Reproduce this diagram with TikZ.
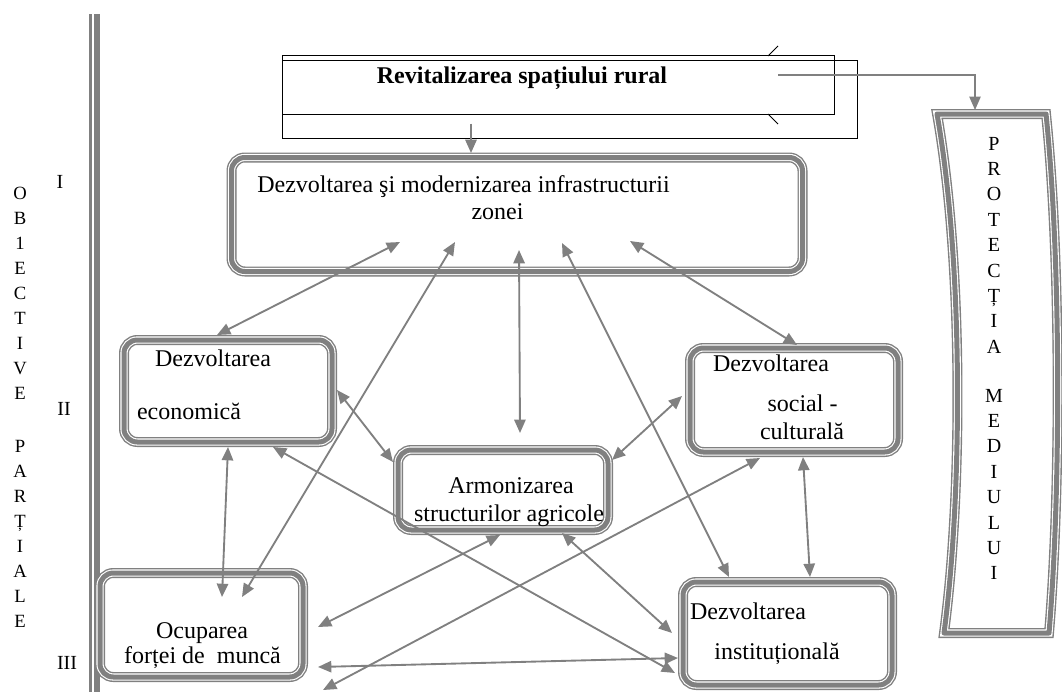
\documentclass[tikz,border=0pt]{standalone}
\usepackage{fontspec}
\setmainfont{Liberation Serif}
\usetikzlibrary{arrows.meta}
\definecolor{gris}{RGB}{128,128,128}
\tikzset{
  triplu/.style={draw=gris, line width=3.75pt,
    preaction={draw=gris, line width=7.5pt},
    preaction={draw=white, line width=5.4pt}},
  caseta/.style 2 args={triplu, rounded corners=10pt, inner sep=0pt,
    minimum width=#1*0.75pt, minimum height=#2*0.75pt},
  scris/.style={font=\fontsize{18}{22}\selectfont, anchor=base, inner sep=0pt},
  litera/.style={font=\fontsize{14}{17}\selectfont, anchor=base, inner sep=0pt},
  cifra/.style={font=\fontsize{15}{18}\selectfont, anchor=base, inner sep=0pt},
  sageata/.style={gris, line width=1.4pt, >={Triangle[length=10pt,width=8.5pt]}, <->},
}
\begin{document}
\begin{tikzpicture}[x=0.75pt,y=-0.75pt]
        \useasboundingbox (0,0) rectangle (1062,692);
        % linia din stanga
        \draw[gris, line width=8pt] (94.7,14) -- (94.7,692);
        \draw[white, line width=1.1pt] (93,14) -- (93,692);
        % obiective partiale
        \foreach \l [count=\i] in {O,B,1,E,C,T,I,V,E}
        \node[litera] (ob\i) at (20,174+25*\i) {\l};
        \foreach \l [count=\i] in {P,A,R,Ț,I,A,L,E}
        \node[litera] (pa\i) at (20,427+25*\i) {\l};
        \node[cifra] (nivel1) at (60,188) {I};
        \node[cifra] (nivel2) at (64,415) {II};
        \node[cifra] (nivel3) at (67,669) {III};
        % titlul
        \node[draw, line width=0.75pt, inner sep=0pt, minimum width=552*0.75pt, minimum height=58*0.75pt] (revA) at (558,85) {};
        \node[draw, line width=0.75pt, inner sep=0pt, minimum width=575*0.75pt, minimum height=77*0.75pt] (revB) at (569.5,99.5) {};
        \draw[line width=0.75pt] (778,46) -- (768,56) (768,114) -- (778,124);
        \node[scris] (titlu) at (522,84) {\bfseries Revitalizarea spațiului rural};
        % protectia mediului
        \draw[triplu, line join=round] (937,114) -- (1046,114) .. controls (1061,260) and (1061,490) .. (1049,633)
              -- (944,633) .. controls (963,490) and (963,260) .. (937,114) -- cycle;
        \coordinate (prot) at (975,110);
        \foreach \l [count=\i] in {P,R,O,T,E,C,Ț,I,A}
        \node[litera, font=\fontsize{15}{18}\selectfont] (pm\i) at (994,124.6+25.4*\i) {\l};
        \foreach \l [count=\i] in {M,E,D,I,U,L,U,I}
        \node[litera, font=\fontsize{15}{18}\selectfont] (mm\i) at (994,376.6+25.4*\i) {\l};
        % casetele
        \node[caseta={571}{114}] (infra) at (517,214.5) {};
        \node[caseta={208}{102}] (eco) at (228,391) {};
        \node[caseta={203}{104}] (ocup) at (201.5,625) {};
        \node[caseta={210}{80}] (armon) at (503,490) {};
        \node[caseta={208}{104}] (social) at (794,400) {};
        \node[caseta={209}{103}] (instit) at (787.5,633.5) {};
        \node[scris] (infraT1) at (463.5,192) {Dezvoltarea şi modernizarea infrastructurii};
        \node[scris] (infraT2) at (497.5,219) {zonei};
        \node[scris] (ecoT1) at (213,366) {Dezvoltarea};
        \node[scris] (ecoT2) at (189,419) {economică};
        \node[scris] (ocupT1) at (202,638) {Ocuparea};
        \node[scris] (ocupT2) at (202.5,663) {forței de\ \ muncă};
        \node[scris] (armonT1) at (511,493) {Armonizarea};
        \node[scris] (armonT2) at (509,521) {structurilor agricole};
        \node[scris] (socialT1) at (771,371) {Dezvoltarea};
        \node[scris] (socialT2) at (802.5,411) {social -};
        \node[scris] (socialT3) at (802,439) {culturală};
        \node[scris] (institT1) at (748,619) {Dezvoltarea};
        \node[scris] (institT2) at (777,659) {instituțională};
        \coordinate (jos) at (323,690);
        % sageti de sus
        \draw[sageata, ->] ([shift={(-98.5,-15)}]revB.south) -- ([shift={(-46,-61.5)}]infra.center);
        \draw[sageata, ->, line width=0.9pt] ([shift={(256,-9)}]titlu.base) -| (prot);
        % sageti dinspre infrastructura
        \draw[sageata] ([shift={(-117,27.5)}]infra.center) -- ([shift={(-11,-56)}]eco.center);
        \draw[sageata] ([shift={(-62,27.5)}]infra.center) -- ([shift={(40.5,-28)}]ocup.center);
        \draw[sageata] ([shift={(2,35.5)}]infra.center) -- ([shift={(17,-57)}]armon.center);
        \draw[sageata] ([shift={(45,28.5)}]infra.center) -- ([shift={(-58.5,-56.5)}]instit.center);
        \draw[sageata] ([shift={(113,26.5)}]infra.center) -- ([shift={(3,-55)}]social.center);
        % sageti intre casete
        \draw[sageata] ([shift={(109,-1)}]eco.center) -- ([shift={(-110,-28)}]armon.center);
        \draw[sageata] ([shift={(0,56)}]eco.center) -- ([shift={(20.5,-28)}]ocup.center);
        \draw[sageata] ([shift={(45,56)}]eco.center) -- ([shift={(-112.5,39.5)}]instit.center);
        \draw[sageata] ([shift={(109,-30)}]armon.center) -- ([shift={(-112,-4)}]social.center);
        \draw[sageata] ([shift={(-3,45)}]armon.center) -- ([shift={(116.5,2)}]ocup.center);
        \draw[sageata] ([shift={(59,43)}]armon.center) -- ([shift={(-115.5,-0.5)}]instit.center);
        \draw[sageata] ([shift={(9,57)}]social.center) -- ([shift={(22.5,-56.5)}]instit.center);
        \draw[sageata] ([shift={(-34,58)}]social.center) -- (jos);
        \draw[sageata] ([shift={(116.5,42)}]ocup.center) -- ([shift={(-109.5,24.5)}]instit.center);
\end{tikzpicture}
\end{document}
